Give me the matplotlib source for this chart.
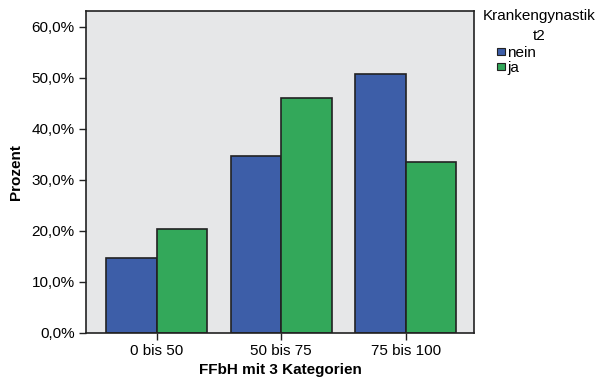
import matplotlib
matplotlib.use("Agg")
import matplotlib.pyplot as plt
import numpy as np
from matplotlib.patches import Patch

categories = ["0 bis 50", "50 bis 75", "75 bis 100"]
nein = [14.7, 34.6, 50.7]
ja = [20.3, 46.0, 33.5]
yticks = [0, 10, 20, 30, 40, 50, 60]
ytick_labels = ["0,0%", "10,0%", "20,0%", "30,0%", "40,0%", "50,0%", "60,0%"]

BLUE = "#3d5ea8"
GREEN = "#33a85a"
EDGE = "#222222"

plt.rcParams["font.family"] = ["Liberation Sans", "DejaVu Sans"]

fig = plt.figure(figsize=(5.97, 3.79), dpi=100)
ax = fig.add_axes((0.144, 0.122, 0.650, 0.849))
ax.set_facecolor("#e6e7e8")

x = np.arange(len(categories))
w = 0.405
ax.bar(x - w / 2, nein, w, color=BLUE, edgecolor=EDGE, linewidth=1.2, label="nein")
ax.bar(x + w / 2, ja, w, color=GREEN, edgecolor=EDGE, linewidth=1.2, label="ja")

ax.set_xlim(-0.57, 2.55)
ax.set_ylim(0, 63.1)
ax.set_xticks(x)
ax.set_xticklabels(categories, fontsize=11)
ax.set_yticks(yticks)
ax.set_yticklabels(ytick_labels, fontsize=11)
ax.tick_params(length=5, width=1, color=EDGE, pad=3)
for s in ax.spines.values():
    s.set_color(EDGE)
    s.set_linewidth(1.2)

ax.set_xlabel("FFbH mit 3 Kategorien", fontsize=11, fontweight="bold", labelpad=4)
ax.set_ylabel("Prozent", fontsize=11, fontweight="bold", labelpad=6)

# legend title, two centred lines
fig.text(539 / 597, 1 - 16 / 379, "Krankengynastik", ha="center", va="center", fontsize=11)
fig.text(539 / 597, 1 - 36 / 379, "t2", ha="center", va="center", fontsize=11)

handles = [Patch(facecolor=BLUE, edgecolor=EDGE, linewidth=0.8),
           Patch(facecolor=GREEN, edgecolor=EDGE, linewidth=0.8)]
fig.legend(handles, ["nein", "ja"], loc="upper left",
           bbox_to_anchor=(497 / 597, 1 - 46 / 379),
           frameon=False, fontsize=11,
           handlelength=0.5, handleheight=0.35, handletextpad=0.15,
           labelspacing=0.05, borderpad=0.0, borderaxespad=0.0)

fig.savefig("out.png", dpi=100)
